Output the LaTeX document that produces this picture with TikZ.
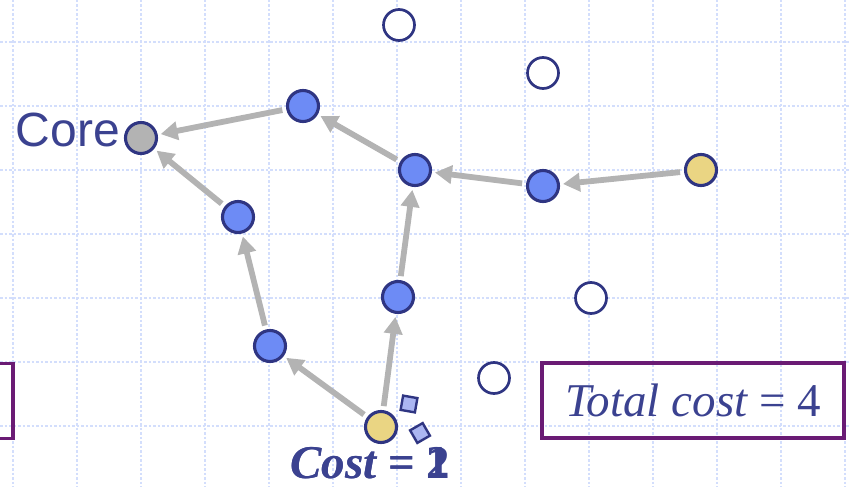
\documentclass[tikz,border=0pt]{standalone}
\usepackage{fontspec}
\setmainfont{Liberation Serif}
\newfontfamily\corefont{Liberation Sans}
\usetikzlibrary{arrows.meta}
\definecolor{stnavy}{HTML}{2F3582}
\definecolor{sttext}{HTML}{3B4290}
\definecolor{stblue}{HTML}{6D8BF5}
\definecolor{styellow}{HTML}{EAD583}
\definecolor{stgrey}{HTML}{B3B3B3}
\definecolor{stpurple}{HTML}{6A1B74}
\definecolor{stgrid}{HTML}{D3DEFC}
\definecolor{stsquare}{HTML}{ABB6F2}
\tikzset{
  vtx/.style={circle,draw=stnavy,line width=3.1pt,minimum size=31pt,inner sep=0pt},
  relay/.style={vtx,fill=stblue},
  term/.style={vtx,fill=styellow},
  hub/.style={vtx,fill=stgrey},
  idle/.style={vtx,fill=white,line width=2.7pt},
  tok/.style={draw=stnavy,fill=stsquare,line width=2.4pt,minimum size=14.5pt,inner sep=0pt},
  ar/.style={-{Triangle[length=17pt,width=18pt]},line width=5.8pt,stgrey,
             shorten >=3pt,shorten <=4pt},
  gridln/.style={stgrid,line width=1.6pt,dash pattern=on 2.5pt off 2pt},
  costbox/.style={draw=stpurple,line width=3.1pt,minimum width=302pt,
                  minimum height=75pt,inner sep=0pt,text=sttext},
  big/.style={font=\fontsize{47}{47}\selectfont},
}
\begin{document}
\begin{tikzpicture}[x=1pt,y=-1pt]
  \useasboundingbox (0,0) rectangle (850,487);
  \clip (0,0) rectangle (850,487);
  % background grid
  \foreach \gx in {13,77,...,845} \draw[gridln] (\gx,0) -- (\gx,487);
  \foreach \gy in {42,106,...,426} \draw[gridln] (0,\gy) -- (850,\gy);
  % vertices
  \node[hub] (core) at (141,138) {};
  \node[relay] (ntop) at (303,106) {};
  \node[relay] (nleft) at (238,217) {};
  \node[relay] (nlow) at (270,346) {};
  \node[relay] (nmid) at (415,170) {};
  \node[relay] (nright) at (543,186) {};
  \node[relay] (nup) at (398,297) {};
  \node[term] (tright) at (701,170) {};
  \node[term] (tbot) at (381,427) {};
  \node[idle] (i1) at (399,25) {};
  \node[idle] (i2) at (543,73) {};
  \node[idle] (i3) at (591,298) {};
  \node[idle] (i4) at (494,378) {};
  \node[tok,rotate=-10] (tk1) at (409,404) {};
  \node[tok,rotate=30] (tk2) at (420,433) {};
  % labels
  \node[anchor=base east,inner sep=0pt,text=sttext,
        font=\corefont\fontsize{48}{48}\selectfont] (corelbl) at (120,146) {Core};
  \node[costbox,big] (total) at (693,400.5) {\itshape Total cost \upshape= 4};
  \node[costbox] (prev) at (-138,401) {};
  \node[anchor=base west,inner sep=0pt,text=sttext,big] (cost1) at (290,478)
    {\bfseries\itshape Cost \upshape= 1};
  \node[anchor=base west,inner sep=0pt,text=sttext,big] (cost2) at (290,478)
    {\bfseries\itshape Cost \upshape= 2};
  % tree edges
  \draw[ar] (ntop) -- (core);
  \draw[ar] (nleft) -- (core);
  \draw[ar] (nlow) -- (nleft);
  \draw[ar] (tbot) -- (nlow);
  \draw[ar] (tbot) -- (nup);
  \draw[ar] (nup) -- (nmid);
  \draw[ar] (nmid) -- (ntop);
  \draw[ar] (nright) -- (nmid);
  \draw[ar] (tright) -- (nright);
\end{tikzpicture}
\end{document}
